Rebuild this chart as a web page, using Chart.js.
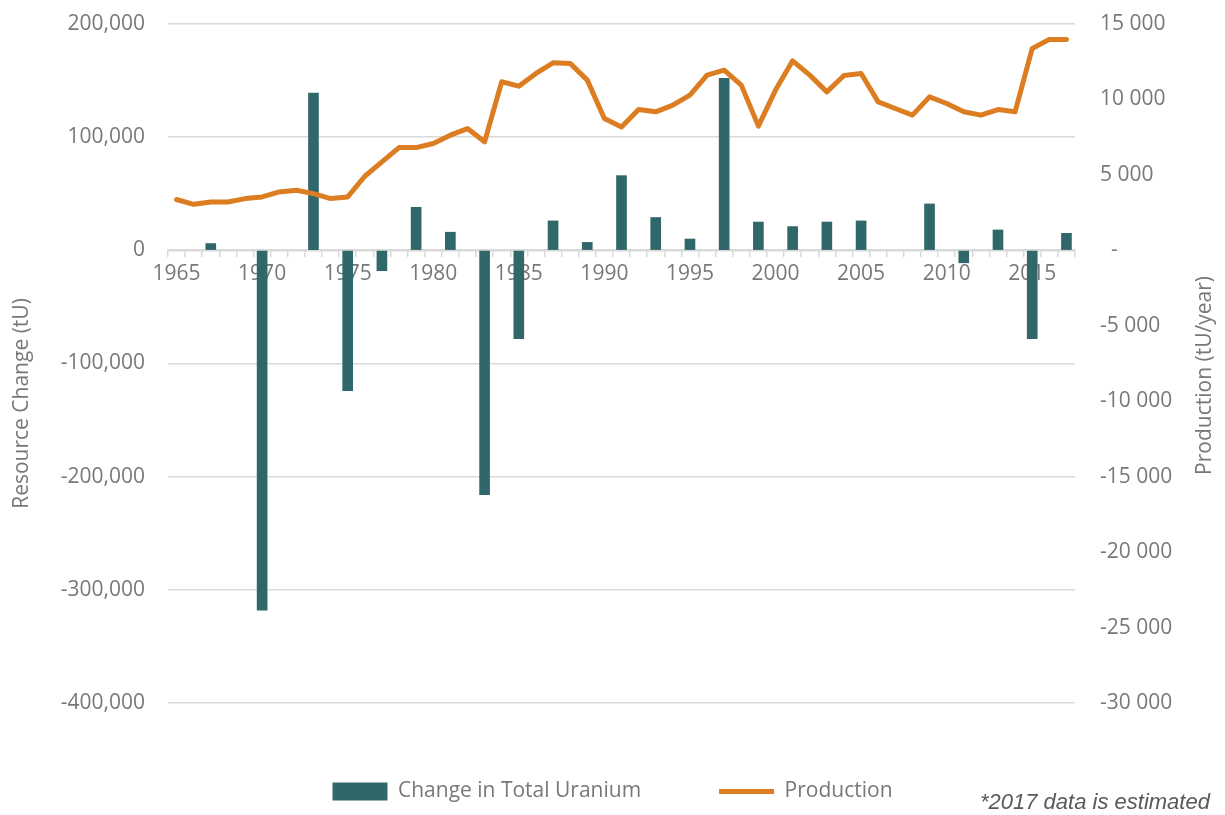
<!DOCTYPE html>
<html>
<head>
<meta charset="utf-8">
<script src="https://cdn.jsdelivr.net/npm/chart.js@4/dist/chart.umd.min.js"></script>
<style>
  html, body { margin: 0; padding: 0; background: #fff; }
  #wrap { position: relative; width: 1225px; height: 815px; }
  #nota { position: absolute; left: 980px; top: 789px; font: italic 22px "Liberation Sans", Arial, sans-serif; color: #595959; white-space: nowrap; }
</style>
</head>
<body>
<div id="wrap">
  <canvas id="grafica"></canvas>
  <div id="nota">*2017 data is estimated</div>
</div>
<script>
// Años (categorías del eje X)
const years = [
  '1965','1966','1967','1968','1969','1970','1971','1972','1973','1974',
  '1975','1976','1977','1978','1979','1980','1981','1982','1983','1984',
  '1985','1986','1987','1988','1989','1990','1991','1992','1993','1994',
  '1995','1996','1997','1998','1999','2000','2001','2002','2003','2004',
  '2005','2006','2007','2008','2009','2010','2011','2012','2013','2014',
  '2015','2016','2017'
];

// Cambio en el recurso total (tU) — barras, eje izquierdo
const resourceChange = [
  null, null, 6000, null, null, -318000, null, null, 139000, null,
  -124000, null, -18000, null, 38000, null, 16000, null, -216000, null,
  -78000, null, 26000, null, 7000, null, 66000, null, 29000, null,
  10000, null, 152000, null, 25000, null, 21000, null, 25000, null,
  26000, null, null, null, 41000, null, -11000, null, 18000, null,
  -78000, null, 15000
];

// Producción (tU/año) — línea, eje derecho
const production = [
  3370, 3050, 3200, 3200, 3430, 3540, 3870, 3980, 3760, 3430,
  3540, 4910, 5860, 6810, 6810, 7080, 7630, 8070, 7190, 11170,
  10880, 11720, 12430, 12390, 11280, 8740, 8180, 9330, 9180, 9620,
  10290, 11610, 11940, 10950, 8230, 10620, 12560, 11610, 10500, 11590,
  11720, 9840, 9400, 8960, 10170, 9730, 9180, 8960, 9330, 9180,
  13380, 13980, 13980
];

// Ejes
const leftTicks = [-400000, -300000, -200000, -100000, 0, 100000, 200000];
const rightTicks = [-30000, -25000, -20000, -15000, -10000, -5000, 0, 5000, 10000, 15000];
const labelEvery = 5;

const BAR_LABEL = 'Change in Total Uranium';
const LINE_LABEL = 'Production';
const LEFT_TITLE = 'Resource Change (tU)';
const RIGHT_TITLE = 'Production (tU/year)';

const TEAL = '#30676a';
const ORANGE = '#dc7d22';
const GRID = '#d9d9d9';
const TXT = '#787878';
const FONT = '"Open Sans", "Noto Sans", sans-serif';

// formato "15 000" para el eje derecho; el cero se muestra como guion
const spaced = (v) => {
  if (v === 0) return '  -';
  const s = Math.abs(v).toString().replace(/\B(?=(\d{3})+(?!\d))/g, ' ');
  return (v < 0 ? '-' : '') + s;
};

// el padding de las etiquetas no debe empujar el área del gráfico
const fixWidth = (w) => (s) => { s.width = w; s.paddingTop = 0; s.paddingBottom = 0; };

// títulos de eje rotados, desplazados como en el original
const axisTitles = {
  id: 'axisTitles',
  afterDraw(chart) {
    const { ctx, chartArea, scales } = chart;
    const mid = (chartArea.top + chartArea.bottom) / 2;
    ctx.save();
    ctx.font = '21px ' + FONT;
    ctx.fillStyle = TXT;
    ctx.textAlign = 'center';
    ctx.textBaseline = 'middle';
    [[scales.y.left + 22, mid + 40, LEFT_TITLE], [scales.y1.right - 20, mid + 12, RIGHT_TITLE]].forEach(([x, y, t]) => {
      ctx.save();
      ctx.translate(x, y);
      ctx.rotate(-Math.PI / 2);
      ctx.fillText(t, 0, 0);
      ctx.restore();
    });
    ctx.restore();
  },
};

new Chart(document.getElementById('grafica'), {
  data: {
    labels: years,
    datasets: [
      { type: 'line', label: LINE_LABEL, data: production, yAxisID: 'y1', order: 0,
        borderColor: ORANGE, backgroundColor: ORANGE, borderWidth: 5, pointRadius: 0,
        tension: 0, borderJoinStyle: 'round', borderCapStyle: 'round' },
      { type: 'bar', label: BAR_LABEL, data: resourceChange, yAxisID: 'y', order: 1,
        backgroundColor: TEAL, barThickness: 10 },
    ],
  },
  options: {
    responsive: true, maintainAspectRatio: false, animation: false,
    layout: { padding: { top: 24, bottom: 3, left: 0, right: 0 } },
    plugins: {
      tooltip: { enabled: false },
      legend: {
        position: 'bottom',
        labels: {
          usePointStyle: true, pointStyleWidth: 55, boxHeight: 18, padding: 78,
          font: { family: FONT, size: 21 }, color: TXT,
          generateLabels: () => [
            { text: BAR_LABEL, fillStyle: TEAL, strokeStyle: TEAL, lineWidth: 0, pointStyle: 'rect', fontColor: TXT, datasetIndex: 1 },
            { text: LINE_LABEL, fillStyle: ORANGE, strokeStyle: ORANGE, lineWidth: 5, pointStyle: 'line', fontColor: TXT, datasetIndex: 0 },
          ],
        },
      },
    },
    scales: {
      x: {
        type: 'category', position: { y: 0 },
        afterFit: (s) => { s.height = 0; },
        grid: { display: true, drawOnChartArea: false, drawTicks: true, tickLength: 6, color: GRID, lineWidth: 1.5 },
        border: { display: true, color: GRID, width: 2 },
        ticks: {
          autoSkip: false, maxRotation: 0, padding: 5, color: TXT, font: { family: FONT, size: 21 },
          callback: (v, i) => (Number(years[i]) % labelEvery === 0 ? years[i] : ''),
        },
      },
      y: {
        position: 'left', min: leftTicks[0], max: leftTicks[leftTicks.length - 1],
        afterFit: fixWidth(168),
        afterBuildTicks: (s) => { s.ticks = leftTicks.map((value) => ({ value })); },
        grid: { color: GRID, lineWidth: 1.5, drawTicks: false },
        border: { display: false },
        ticks: { padding: 23, color: TXT, font: { family: FONT, size: 21 }, callback: (v) => v.toLocaleString('en-US') },
      },
      y1: {
        position: 'right', min: rightTicks[0], max: rightTicks[rightTicks.length - 1],
        afterFit: fixWidth(150),
        afterBuildTicks: (s) => { s.ticks = rightTicks.map((value) => ({ value })); },
        grid: { display: false, drawTicks: false },
        border: { display: false },
        ticks: { padding: 25, color: TXT, font: { family: FONT, size: 21 }, callback: (v) => spaced(v) },
      },
    },
  },
  plugins: [axisTitles],
});
</script>
</body>
</html>
